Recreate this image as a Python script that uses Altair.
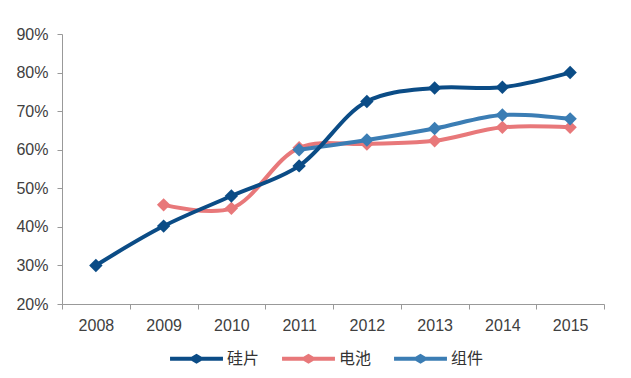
import altair as alt
import pandas as pd

years = ["2008", "2009", "2010", "2011", "2012", "2013", "2014", "2015"]
series_names = ["硅片", "电池", "组件"]
silicon = [0.30, 0.402, 0.48, 0.558, 0.725, 0.76, 0.762, 0.80]
cell = [None, 0.457, 0.448, 0.605, 0.615, 0.623, 0.658, 0.658]
module = [None, None, None, 0.60, 0.625, 0.655, 0.69, 0.68]
y_ticks = [0.2, 0.3, 0.4, 0.5, 0.6, 0.7, 0.8, 0.9]
colors = ["#0B4C86", "#E8787A", "#3B7DB4"]

rows = []
for name, vals in zip(series_names, [silicon, cell, module]):
    for y, v in zip(years, vals):
        if v is not None:
            rows.append({"year": y, "series": name, "value": v})
df = pd.DataFrame(rows)

legend_path = ("M-1,-0.075 L-0.19,-0.075 L0,-0.19 L0.19,-0.075 L1,-0.075 "
               "L1,0.075 L0.19,0.075 L0,0.19 L-0.19,0.075 L-1,0.075 Z")

FONT = "Liberation Sans"

x_scale = alt.Scale(type="band", domain=years, paddingInner=0, paddingOuter=0)
y_scale = alt.Scale(domain=[0.2, 0.9], nice=False, zero=False)
order_scale = alt.Scale(domain=series_names, range=colors)

x_enc = alt.X("year:O", scale=x_scale,
              axis=alt.Axis(title=None, tickBand="extent", labelAngle=0, labelPadding=8,
                            labelFont=FONT, labelFontSize=16, labelOverlap=False,
                            labelColor="#404040", domainColor="#999999", tickColor="#999999",
                            tickSize=5, grid=False))
y_enc = alt.Y("value:Q", scale=y_scale,
              axis=alt.Axis(title=None, format=".0%", values=y_ticks,
                            labelFont=FONT, labelFontSize=16, labelPadding=9,
                            labelOverlap=False, labelFlush=False,
                            labelColor="#404040", domainColor="#999999", tickColor="#999999",
                            tickSize=5, grid=False))

color_enc = alt.Color("series:N", scale=order_scale, sort=series_names,
                      legend=alt.Legend(title=None, orient="none", direction="horizontal",
                                        legendX=108, legendY=298, symbolType=legend_path,
                                        symbolSize=2800, symbolStrokeWidth=0,
                                        labelFont="Noto Sans CJK SC", labelFontSize=16,
                                        labelColor="#333333", labelOffset=4, columnPadding=22,
                                        symbolOpacity=1))

base = alt.Chart(df).encode(x=x_enc, y=y_enc, color=color_enc)
line = base.mark_line(interpolate="catmull-rom", strokeWidth=4).encode(
    order=alt.Order("year:O"),
)
pts = base.mark_point(shape="diamond", filled=True, size=180, opacity=1)

layers = []
for name in ["电池", "组件", "硅片"]:
    layers.append(line.transform_filter(alt.datum.series == name))
    layers.append(pts.transform_filter(alt.datum.series == name))

chart = alt.layer(*layers).properties(
    width=542, height=270, background="white",
    autosize=alt.AutoSizeParams(type="none"),
    padding={"left": 54, "top": 26, "right": 19, "bottom": 66},
).configure_view(stroke=None)

chart.save("out.html", embed_options={"renderer": "svg", "actions": False})
